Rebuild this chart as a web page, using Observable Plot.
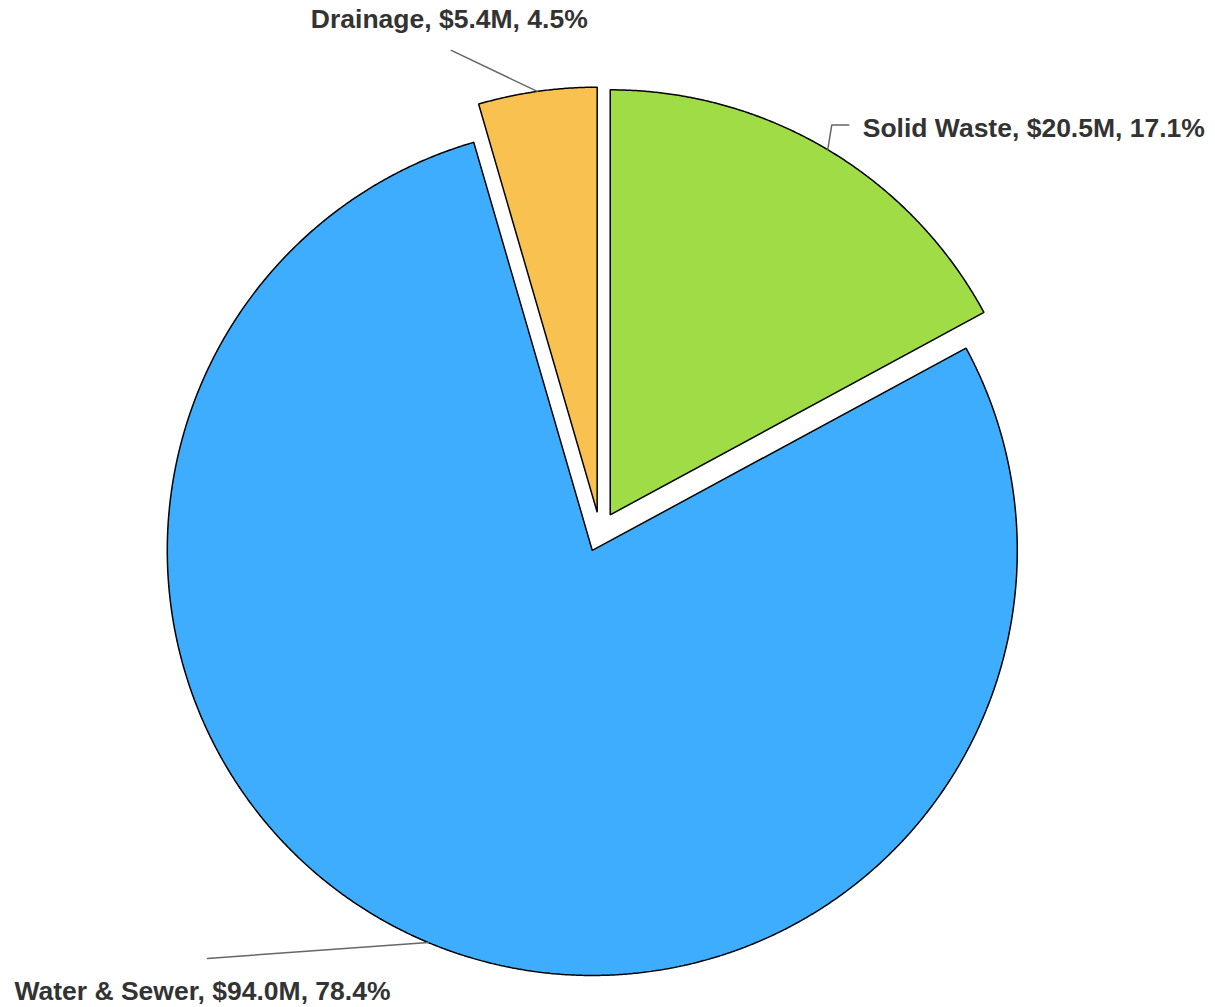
<!DOCTYPE html>
<html><head><meta charset="utf-8">
<script src="https://cdn.jsdelivr.net/npm/d3@7"></script>
<script src="https://cdn.jsdelivr.net/npm/@observablehq/plot@0.6"></script>
<style>html,body{margin:0;padding:0;background:#fff}</style>
</head><body><div id="chart"></div>
<script>
// ---- data ----
const categories = ["Solid Waste", "Water & Sewer", "Drainage"];
const amounts = [20.5, 94.0, 5.4];      // $M
const percents = [17.1, 78.4, 4.5];     // %
const colors = ["#9fdc46", "#3fadfe", "#f9c250"];

// ---- layout ----
const W = 1215, H = 1007;
const R = 425;                  // radius in px
const CX = 599.5, CY = 531.5;   // pie centre in px
const EXP = 20 / R;             // explode distance (radius units)
// label leader knees / text offsets (px, relative to slice mid-arc point)
const labelLayout = {
  "Solid Waste":   {knees: [[4, -24.6], [21, -24.6]], text: [35, -13], anchor: "start"},
  "Water & Sewer": {knees: [[-221, 15.8]],            text: [-414, 57], anchor: "start"},
  "Drainage":      {knees: [[-86, -41]],              text: [-88, -63], anchor: "middle"}
};

const data = categories.map((c, i) => ({cat: c, amt: amounts[i], pct: percents[i]}));
const arcs = d3.pie().value(d => d.pct).sort(null)(data);

const slicePts = [], leaderPts = [], labels = [];
arcs.forEach(p => {
  const cat = p.data.cat;
  const mid = (p.startAngle + p.endAngle) / 2;
  const ox = EXP * Math.sin(mid), oy = -EXP * Math.cos(mid);
  slicePts.push({cat, x: ox, y: oy});
  const n = Math.max(2, Math.ceil((p.endAngle - p.startAngle) / (Math.PI / 720)));
  for (let i = 0; i <= n; i++) {
    const a = p.startAngle + (p.endAngle - p.startAngle) * i / n;
    slicePts.push({cat, x: ox + Math.sin(a), y: oy - Math.cos(a)});
  }
  const ax = ox + Math.sin(mid), ay = oy - Math.cos(mid);
  const L = labelLayout[cat];
  leaderPts.push({cat, x: ax, y: ay});
  L.knees.forEach(([dx, dy]) => leaderPts.push({cat, x: ax + dx / R, y: ay + dy / R}));
  labels.push({cat, anchor: L.anchor, x: ax + L.text[0] / R, y: ay + L.text[1] / R,
    text: `${cat}, $${p.data.amt.toFixed(1)}M, ${p.data.pct.toFixed(1)}%`});
});

const font = {fontFamily: "'Liberation Sans', Arial, Helvetica, sans-serif", fontWeight: "bold", fontSize: 26.5, fill: "#333", lineAnchor: "bottom"};

const chart = Plot.plot({
  width: W, height: H, margin: 0,
  x: {domain: [-CX / R, (W - CX) / R], axis: null},
  y: {domain: [-CY / R, (H - CY) / R], range: [0, H], axis: null},
  color: {domain: categories, range: colors},
  style: {background: "#fff", overflow: "visible"},
  marks: [
    Plot.line(slicePts, {x: "x", y: "y", z: "cat", fill: "cat", stroke: "#000", strokeWidth: 1.5, curve: "linear-closed", strokeLinejoin: "miter"}),
    Plot.line(leaderPts, {x: "x", y: "y", z: "cat", stroke: "#666", strokeWidth: 1.5}),
    Plot.text(labels.filter(d => d.anchor === "start"), {x: "x", y: "y", text: "text", textAnchor: "start", ...font}),
    Plot.text(labels.filter(d => d.anchor === "middle"), {x: "x", y: "y", text: "text", textAnchor: "middle", ...font})
  ]
});
document.getElementById("chart").appendChild(chart);
</script>
</body></html>
